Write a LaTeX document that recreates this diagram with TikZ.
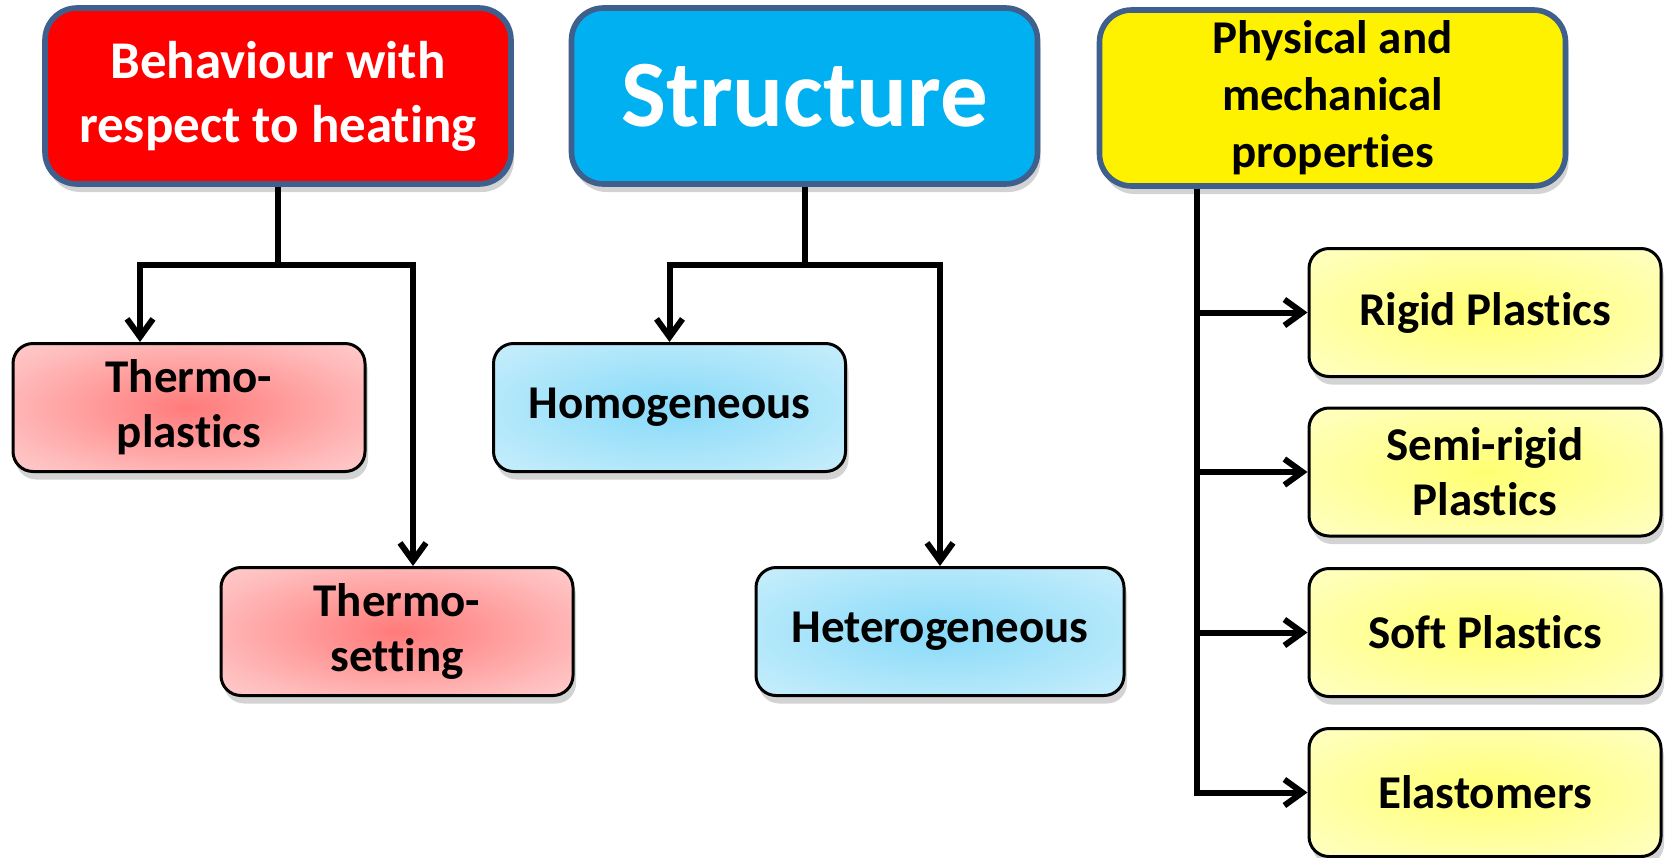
\documentclass[tikz,border=0pt]{standalone}
\usepackage{fontspec}
\setmainfont[RawFeature=-liga]{Carlito}
\usetikzlibrary{arrows.meta,calc,shadows}
\definecolor{rimblue}{HTML}{3F5F8C}
\definecolor{headblue}{HTML}{00B0F0}
\pgfdeclareradialshading{redglow}{\pgfpointorigin}{color(0bp)=(red!52); color(28bp)=(red!26); color(42bp)=(red!15); color(75bp)=(red!10)}
\pgfdeclareradialshading{blueglow}{\pgfpointorigin}{color(0bp)=(headblue!47); color(28bp)=(headblue!27); color(42bp)=(headblue!16); color(75bp)=(headblue!10)}
\pgfdeclareradialshading{yellowglow}{\pgfpointorigin}{color(0bp)=(yellow!55); color(28bp)=(yellow!30); color(42bp)=(yellow!16); color(75bp)=(yellow!9)}

\begin{document}
\begin{tikzpicture}[x=0.5pt,y=-0.5pt,>={Straight Barb[length=9pt,width=13pt]},
  head/.style={draw=rimblue,line width=2.8pt,rounded corners=16pt,minimum width=233pt,
    minimum height=88pt,inner sep=0pt,align=center,text=white,
    drop shadow={shadow xshift=1.5pt,shadow yshift=-4pt,opacity=.35}},
  leaf/.style={draw=black,line width=1.5pt,rounded corners=10pt,minimum width=176pt,
    minimum height=64pt,inner sep=0pt,align=center,
    font=\fontsize{23.5}{27.5}\selectfont\bfseries,
    drop shadow={shadow xshift=1.5pt,shadow yshift=-4pt,opacity=.35}},
  redleaf/.style={leaf,shade,shading=redglow},
  blueleaf/.style={leaf,shade,shading=blueglow},
  yellowleaf/.style={leaf,shade,shading=yellowglow},
  wire/.style={line width=3pt}]
  \useasboundingbox (0,0) rectangle (1668,857);

  % the three headings
  \node[head,fill=red,font=\fontsize{26.5}{32}\selectfont\bfseries] (beh) at (278,96) {Behaviour with\\respect to heating};
  \node[head,fill=headblue,font=\fontsize{47.5}{57}\selectfont\bfseries] (str) at (804.5,96) {Structure};
  \node[head,fill=yellow,text=black,font=\fontsize{23.5}{28.5}\selectfont\bfseries] (phy) at (1332.5,98) {Physical and\\mechanical\\properties};

  % heating
  \node[redleaf] (tp) at (189,407.5) {Thermo-\\plastics};
  \node[redleaf] (ts) at (397,631.5) {Thermo-\\setting};
  \coordinate (bj) at ($(beh.south)+(0,78)$);
  \draw[wire] (beh.south) -- (bj);
  \draw[wire,->] (bj) -| ($(tp.north)+(-49,0)$);
  \draw[wire,->] (bj) -| ($(ts.north)+(16,0)$);

  % structure
  \node[blueleaf] (hom) at (669.5,407.5) {Homogeneous};
  \node[blueleaf,minimum width=184pt] (het) at (940,631.5) {Heterogeneous};
  \coordinate (sj) at ($(str.south)+(0,78)$);
  \draw[wire] (str.south) -- (sj);
  \draw[wire,->] (sj) -| (hom.north);
  \draw[wire,->] (sj) -| (het.north);

  % physical and mechanical properties
  \node[yellowleaf] (rp) at (1485,312.5) {Rigid Plastics};
  \node[yellowleaf] (sr) at (1485,472) {Semi-rigid\\Plastics};
  \node[yellowleaf] (sp) at (1485,632.5) {Soft Plastics};
  \node[yellowleaf] (el) at (1485,792.5) {Elastomers};
  \coordinate (pj) at ($(phy.south west)+(100,0)$);
  \draw[wire,->] (pj) |- (el.west);
  \draw[wire,->] (pj |- rp.west) -- (rp.west);
  \draw[wire,->] (pj |- sr.west) -- (sr.west);
  \draw[wire,->] (pj |- sp.west) -- (sp.west);
\end{tikzpicture}
\end{document}
